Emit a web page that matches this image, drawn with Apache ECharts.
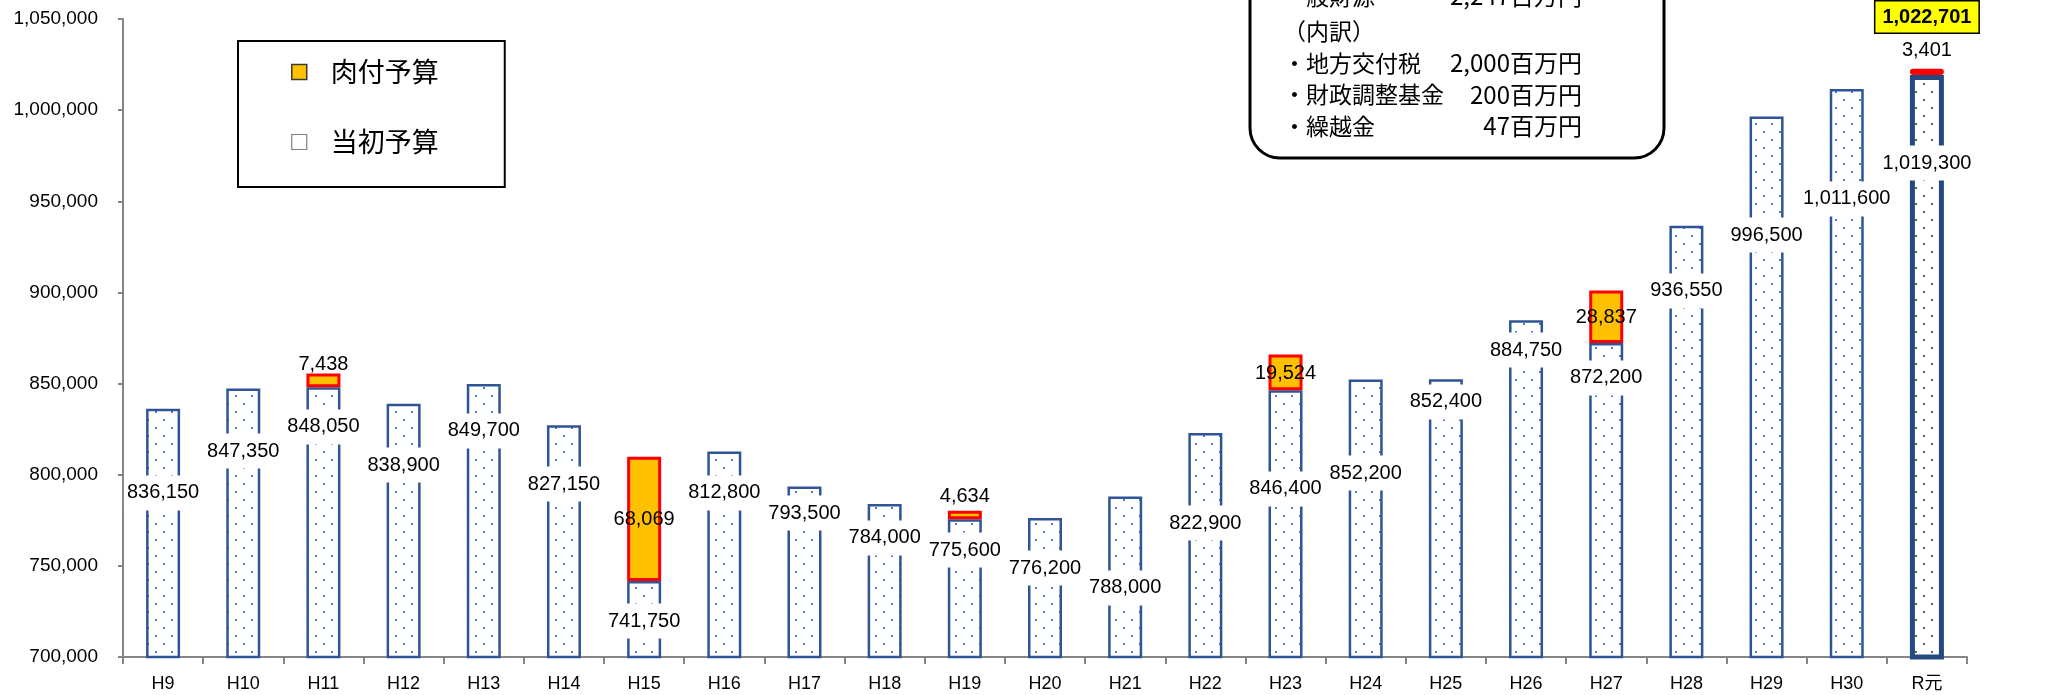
<!DOCTYPE html>
<html><head><meta charset="utf-8">
<script src="https://cdn.jsdelivr.net/npm/echarts@6/dist/echarts.min.js"></script>
<style>html,body{margin:0;padding:0;background:#fff}#c{width:2049px;height:695px}</style>
</head><body><div id="c"></div>
<script>
// ---------- data ----------
const categories = ['H9','H10','H11','H12','H13','H14','H15','H16','H17','H18','H19','H20','H21','H22','H23','H24','H25','H26','H27','H28','H29','H30','R元'];
const initialBudget = [836150,847350,848050,838900,849700,827150,741750,812800,793500,784000,775600,776200,788000,822900,846400,852200,852400,884750,872200,936550,996500,1011600,1019300];
const supplementaryBudget = [null,null,7438,null,null,null,68069,null,null,null,4634,null,null,null,19524,null,null,null,28837,null,null,null,3401];
const yMin = 700000, yMax = 1050000, yStep = 50000;
const seriesNames = ['当初予算','肉付予算'];
// where each data label sits (axis units)
const initialLabelAt = [790000,813000,826200,805300,824000,794900,719700,790000,779000,765300,758700,748800,737900,773500,792200,800900,839900,868400,853100,900800,931500,951300,971000];
const supplementaryLabelAt = [null,null,860200,null,null,null,775700,null,null,null,788300,null,null,null,855800,null,null,null,886500,null,null,null,1033000];
const totalLabelAt = 1051100;
const noteLines = [['一般財源','2,247百万円'],['（内訳）',''],['・地方交付税','2,000百万円'],['・財政調整基金','200百万円'],['・繰越金','47百万円']];

// ---------- helpers ----------
const fmt = v => String(v).replace(/\B(?=(\d{3})+(?!\d))/g, ',');
function dotPattern(dot){
  const c = document.createElement('canvas'); c.width = 16; c.height = 16;
  const g = c.getContext('2d');
  g.fillStyle = '#fff'; g.fillRect(0,0,16,16);
  g.fillStyle = dot;
  g.fillRect(3,3,2,2); g.fillRect(11,11,2,2);
  return {image: c, repeat: 'repeat'};
}
const blueDots = dotPattern('#4A7CC7');
const oliveDots = dotPattern('#5B6B3A');
const NUM = "'Liberation Sans','Noto Sans CJK JP',sans-serif";
const JP = "'Noto Sans CJK JP',sans-serif";
const last = categories.length - 1;

const baseData = initialBudget.map((v,i) => i === last
  ? {value: v, itemStyle: {color: oliveDots, borderColor: '#24497F', borderWidth: 5}}
  : v);
const addData = supplementaryBudget.map((v,i) => (i === last && v != null)
  ? {value: v, itemStyle: {color: '#FFC000', borderColor: '#FF0000', borderWidth: 4.5, borderRadius: 3}}
  : v);

const baseLabels = initialLabelAt.map((y,i) => [i, y, initialBudget[i]]);
const addLabels = supplementaryLabelAt.map((y,i) => y == null ? null : [i, y, supplementaryBudget[i]]).filter(d => d);
const totalLabels = [[last, totalLabelAt, initialBudget[last] + (supplementaryBudget[last] || 0)]];

const labelSeries = (name, data, label, z) => ({
  name, type: 'scatter', data, symbol: 'rect', symbolSize: 1, silent: true, clip: false, z,
  itemStyle: {color: 'rgba(255,255,255,0)', opacity: 1},
  emphasis: {disabled: true},
  label: Object.assign({show: true, position: 'inside', formatter: p => fmt(p.data[2]),
    fontFamily: NUM, fontSize: 20, color: '#000', opacity: 1}, label)
});

const graphics = [{
  type: 'rect', shape: {x: 1250, y: -45, width: 414, height: 203, r: 30},
  style: {fill: '#fff', stroke: '#000', lineWidth: 3}, z: 10
}];
noteLines.forEach((ln, k) => {
  const y = (k === 0 ? -4 : 0) + k * 31.5;
  graphics.push({type: 'text', x: 1283, y, z: 11,
    style: {text: ln[0], font: '23px ' + JP, fill: '#000', textAlign: 'left', textVerticalAlign: 'middle'}});
  if (ln[1]) graphics.push({type: 'text', x: 1582, y, z: 11,
    style: {text: ln[1], font: '24px ' + JP, fill: '#000', textAlign: 'right', textVerticalAlign: 'middle'}});
});

const chart = echarts.init(document.getElementById('c'));
chart.setOption({
  animation: false,
  backgroundColor: '#fff',
  grid: {left: 123, right: 82, top: 19, bottom: 38, containLabel: false},
  legend: {
    left: 238, top: 41, orient: 'vertical',
    padding: [16, 66, 30, 53], itemGap: 40, itemWidth: 15, itemHeight: 15,
    borderColor: '#000', borderWidth: 2, backgroundColor: '#fff',
    textStyle: {fontFamily: JP, fontSize: 27, lineHeight: 30, color: '#000', padding: [0, 0, 0, 19]},
    data: [
      {name: '肉付予算', icon: 'rect', itemStyle: {color: '#FFC000', borderColor: '#3a3a3a', borderWidth: 1.5}},
      {name: '当初予算', icon: 'rect', itemStyle: {color: '#fff', borderColor: '#808080', borderWidth: 1.2}}
    ]
  },
  xAxis: {
    type: 'category', data: categories,
    axisLine: {lineStyle: {color: '#868686', width: 2}},
    axisTick: {show: true, length: 7, interval: 0, lineStyle: {color: '#868686', width: 2}},
    axisLabel: {interval: 0, fontFamily: NUM, fontSize: 18, color: '#000', margin: 18},
    splitLine: {show: false}
  },
  yAxis: {
    type: 'value', min: yMin, max: yMax, interval: yStep,
    axisLine: {show: true, lineStyle: {color: '#868686', width: 2}},
    axisTick: {show: true, length: 5, lineStyle: {color: '#868686', width: 2}},
    axisLabel: {fontFamily: NUM, fontSize: 19, color: '#000', margin: 25, formatter: v => fmt(v)},
    splitLine: {show: false}
  },
  series: [
    {name: seriesNames[0], type: 'bar', stack: 'b', barWidth: 34, data: baseData, z: 2,
      itemStyle: {color: blueDots, borderColor: '#2F5597', borderWidth: 2.5}},
    {name: seriesNames[1], type: 'bar', stack: 'b', barWidth: 34, data: addData, z: 3,
      itemStyle: {color: '#FFC000', borderColor: '#FF0000', borderWidth: 3}},
    labelSeries('lb1', baseLabels, {backgroundColor: '#fff', padding: [8, 3, 7, 3]}, 5),
    labelSeries('lb2', addLabels, {}, 6),
    labelSeries('lb3', totalLabels, {fontWeight: 'bold', backgroundColor: '#FFFF00', borderColor: '#000',
      borderWidth: 1.5, padding: [6, 7, 5, 7]}, 7)
  ],
  graphic: graphics
});
</script>
</body></html>
